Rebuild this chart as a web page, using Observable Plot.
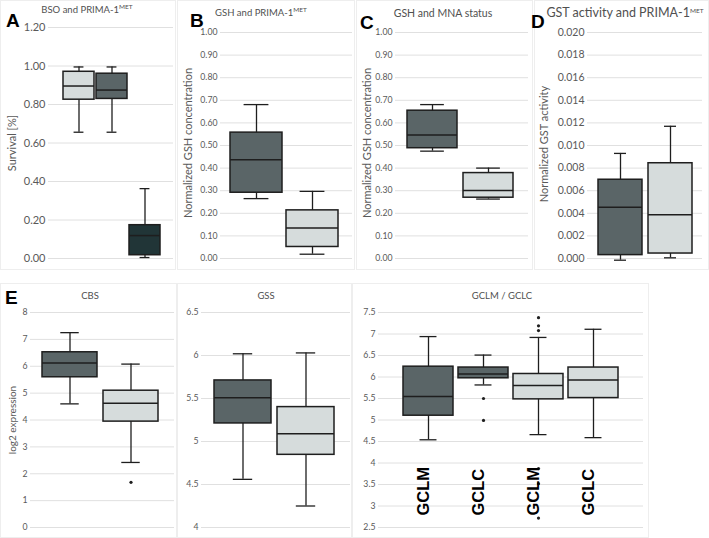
<!DOCTYPE html>
<html><head><meta charset="utf-8">
<script src="https://cdn.jsdelivr.net/npm/d3@7"></script>
<script src="https://cdn.jsdelivr.net/npm/@observablehq/plot@0.6"></script>
<style>
body{margin:0;background:#fff;}
#root{position:relative;width:709px;height:538px;overflow:hidden;font-family:Lato,"Open Sans",sans-serif;}
.frame{position:absolute;border:1px solid #eeeeee;box-sizing:border-box;}
.plot{position:absolute;}
.title{position:absolute;font-size:9.5px;font-weight:400;color:#505050;white-space:nowrap;transform:translate(-50%,-50%);line-height:12px;}
.title sup{font-size:6.5px;vertical-align:4px;line-height:0;}
.letter{position:absolute;font-family:"Liberation Sans",Arial,sans-serif;font-weight:bold;font-size:19px;line-height:19px;color:#000;}
.ylab{position:absolute;font-size:11px;color:#595959;white-space:nowrap;transform:translate(-50%,-50%) rotate(-90deg);line-height:12px;}
</style></head><body><div id="root"></div>
<script>
// ---------- DATA ----------
// A: BSO and PRIMA-1MET (survival)
const bsoGroups = ["BSO 1", "BSO 2", "BSO 3"];
const bsoMin    = [0.656, 0.656, 0.005];
const bsoQ1     = [0.825, 0.829, 0.017];
const bsoMedian = [0.896, 0.875, 0.119];
const bsoQ3     = [0.970, 0.960, 0.173];
const bsoMax    = [0.995, 0.995, 0.363];
const bsoTicks  = [0, 0.2, 0.4, 0.6, 0.8, 1.0, 1.2];

// B: GSH and PRIMA-1MET
const gshGroups = ["control", "PRIMA-1MET"];
const gshMin    = [0.265, 0.019];
const gshQ1     = [0.291, 0.051];
const gshMedian = [0.437, 0.135];
const gshQ3     = [0.557, 0.213];
const gshMax    = [0.681, 0.297];
const fractionTicks = [0, 0.1, 0.2, 0.3, 0.4, 0.5, 0.6, 0.7, 0.8, 0.9, 1.0];

// C: GSH and MNA status
const mnaGroups = ["MNA", "non-MNA"];
const mnaMin    = [0.475, 0.263];
const mnaQ1     = [0.488, 0.269];
const mnaMedian = [0.547, 0.301];
const mnaQ3     = [0.654, 0.378];
const mnaMax    = [0.681, 0.400];

// D: GST activity and PRIMA-1MET
const gstGroups = ["control", "PRIMA-1MET"];
const gstMin    = [-0.00015, 0.00006];
const gstQ1     = [0.0003, 0.00044];
const gstMedian = [0.00453, 0.00388];
const gstQ3     = [0.00697, 0.00843];
const gstMax    = [0.0093, 0.0117];
const gstTicks  = [0, 0.002, 0.004, 0.006, 0.008, 0.010, 0.012, 0.014, 0.016, 0.018, 0.020];

// E: CBS
const cbsGroups = ["MNA", "non-MNA"];
const cbsMin    = [4.60, 2.42];
const cbsQ1     = [5.59, 3.94];
const cbsMedian = [6.12, 4.62];
const cbsQ3     = [6.52, 5.09];
const cbsMax    = [7.25, 6.08];
const cbsOutlierGroup = ["non-MNA"];
const cbsOutlierValue = [1.68];
const cbsTicks  = [0, 1, 2, 3, 4, 5, 6, 7, 8];

// E: GSS
const gssGroups = ["MNA", "non-MNA"];
const gssMin    = [4.56, 4.25];
const gssQ1     = [5.21, 4.845];
const gssMedian = [5.51, 5.09];
const gssQ3     = [5.71, 5.40];
const gssMax    = [6.02, 6.03];
const gssTicks  = [4, 4.5, 5, 5.5, 6, 6.5];

// E: GCLM / GCLC
const gclGroups = ["GCLM MNA", "GCLC MNA", "GCLM non-MNA", "GCLC non-MNA"];
const gclLabels = ["GCLM", "GCLC", "GCLM", "GCLC"];
const gclMin    = [4.54, 5.815, 4.66, 4.59];
const gclQ1     = [5.10, 5.97, 5.48, 5.51];
const gclMedian = [5.545, 6.07, 5.80, 5.93];
const gclQ3     = [6.24, 6.22, 6.07, 6.22];
const gclMax    = [6.94, 6.51, 6.92, 7.11];
const gclOutlierGroup = ["GCLC MNA", "GCLC MNA", "GCLM non-MNA", "GCLM non-MNA", "GCLM non-MNA", "GCLM non-MNA", "GCLM non-MNA", "GCLM non-MNA"];
const gclOutlierValue = [5.50, 4.99, 7.38, 7.19, 7.08, 3.87, 3.52, 2.72];
const gclTicks  = [2.5, 3, 3.5, 4, 4.5, 5, 5.5, 6, 6.5, 7, 7.5];

// ---------- STYLE ----------
const LIGHT = "#d6dcdc", DARK = "#5a6567", DARKEST = "#213537";
const INK = "#1e1e1e";
const root = document.getElementById("root");

function add(cls, html, style) {
  const d = document.createElement("div");
  d.className = cls; d.innerHTML = html;
  Object.assign(d.style, style);
  root.appendChild(d);
  return d;
}

function boxPanel(cfg) {
  const n = cfg.groups.length;
  const rows = cfg.groups.map((g, i) => ({
    g, min: cfg.min[i], q1: cfg.q1[i], med: cfg.med[i], q3: cfg.q3[i], max: cfg.max[i], fill: cfg.fills[i]
  }));
  const outliers = (cfg.outG || []).map((g, i) => ({g, v: cfg.outV[i]}));
  const range = cfg.width - cfg.ml - cfg.mr;
  const step = range / (n - cfg.pi + 2 * cfg.po);
  const bw = step * (1 - cfg.pi);
  const capInset = bw * (1 - cfg.cap) / 2;
  const marks = [
    Plot.gridY(cfg.ticks, {stroke: "#e0e0e0", strokeOpacity: 1, strokeWidth: 1}),
    Plot.axisY(cfg.ticks, {tickSize: 0, tickPadding: 3, tickFormat: cfg.fmt, label: null, fontSize: cfg.fs}),
    Plot.ruleX(rows, {x: "g", y1: "min", y2: "max", stroke: INK, strokeWidth: 1.3}),
    Plot.tickY(rows, {x: "g", y: "min", stroke: INK, strokeWidth: 1.3, insetLeft: capInset, insetRight: capInset}),
    Plot.tickY(rows, {x: "g", y: "max", stroke: INK, strokeWidth: 1.3, insetLeft: capInset, insetRight: capInset}),
    Plot.barY(rows, {x: "g", y1: "q1", y2: "q3", fill: "fill", stroke: INK, strokeWidth: 1.5}),
    Plot.tickY(rows, {x: "g", y: "med", stroke: INK, strokeWidth: 1.5}),
    Plot.dot(outliers, {x: "g", y: "v", r: 1.6, fill: INK, stroke: null})
  ];
  if (cfg.labels) {
    marks.push(Plot.text(rows, {x: "g", text: (d, i) => cfg.labels[i], frameAnchor: "bottom", rotate: -90,
      textAnchor: "start", dy: -12, fontSize: 16.5, fontWeight: "bold", fill: "#000",
      fontFamily: "Liberation Sans, Arial, sans-serif"}));
  }
  const svg = Plot.plot({
    width: cfg.width, height: cfg.height,
    marginLeft: cfg.ml, marginRight: cfg.mr, marginTop: cfg.mt, marginBottom: cfg.mb,
    x: {type: "band", domain: cfg.groups, paddingInner: cfg.pi, paddingOuter: cfg.po, align: cfg.align, axis: null},
    y: {domain: cfg.domain},
    color: {type: "identity"},
    style: {fontFamily: "Lato, 'Open Sans', sans-serif", fontSize: cfg.fs + "px", color: "#595959", background: "transparent", overflow: "visible"},
    marks
  });
  const wrap = document.createElement("div");
  wrap.className = "plot";
  wrap.style.left = cfg.left + "px"; wrap.style.top = cfg.top + "px";
  wrap.appendChild(svg);
  root.appendChild(wrap);
}

// frames
[[0,0,176,270],[177,0,178,270],[356,0,177,270],[534,0,175,270],[0,283,177,255],[177,283,175,255],[352,283,297,255]]
  .forEach(([l,t,w,h]) => add("frame", "", {left:l+"px", top:t+"px", width:w+"px", height:h+"px"}));

const f2 = d => d.toFixed(2), f3 = d => d.toFixed(3), fs = d => String(d);

boxPanel({left:0, top:0, width:176, height:270, ml:48, mr:3, mt:27, mb:12, pi:0.06, po:0.42, align:0.55, cap:0.32, fs:11,
  groups:bsoGroups, min:bsoMin, q1:bsoQ1, med:bsoMedian, q3:bsoQ3, max:bsoMax, fills:[LIGHT, DARK, DARKEST],
  ticks:bsoTicks, domain:[0,1.2], fmt:f2});
boxPanel({left:176, top:0, width:178, height:270, ml:44, mr:2, mt:32, mb:12, pi:0.07, po:0.21, align:0.42, cap:0.48, fs:8.7,
  groups:gshGroups, min:gshMin, q1:gshQ1, med:gshMedian, q3:gshQ3, max:gshMax, fills:[DARK, LIGHT],
  ticks:fractionTicks, domain:[0,1], fmt:f2});
boxPanel({left:355, top:0, width:176, height:270, ml:40, mr:3, mt:32, mb:12, pi:0.106, po:0.23, align:0.46, cap:0.48, fs:8.7,
  groups:mnaGroups, min:mnaMin, q1:mnaQ1, med:mnaMedian, q3:mnaQ3, max:mnaMax, fills:[DARK, LIGHT],
  ticks:fractionTicks, domain:[0,1], fmt:f2});
boxPanel({left:532, top:0, width:177, height:270, ml:55, mr:7, mt:32, mb:12, pi:0.12, po:0.2, align:0.5, cap:0.28, fs:10.5,
  groups:gstGroups, min:gstMin, q1:gstQ1, med:gstMedian, q3:gstQ3, max:gstMax, fills:[DARK, LIGHT],
  ticks:gstTicks, domain:[0,0.02], fmt:f3});
boxPanel({left:0, top:283, width:176, height:255, ml:30, mr:2, mt:29, mb:11, pi:0.1, po:0.22, align:0.41, cap:0.34, fs:8.7,
  groups:cbsGroups, min:cbsMin, q1:cbsQ1, med:cbsMedian, q3:cbsQ3, max:cbsMax, fills:[DARK, LIGHT],
  outG:cbsOutlierGroup, outV:cbsOutlierValue, ticks:cbsTicks, domain:[0,8], fmt:fs});
boxPanel({left:176, top:283, width:176, height:255, ml:25, mr:2, mt:29, mb:11, pi:0.095, po:0.23, align:0.45, cap:0.34, fs:8.7,
  groups:gssGroups, min:gssMin, q1:gssQ1, med:gssMedian, q3:gssQ3, max:gssMax, fills:[DARK, LIGHT],
  ticks:gssTicks, domain:[4,6.5], fmt:fs});
boxPanel({left:352, top:283, width:296, height:255, ml:26, mr:5, mt:29, mb:11, pi:0.096, po:0.44, align:0.5, cap:0.34, fs:8.7,
  groups:gclGroups, min:gclMin, q1:gclQ1, med:gclMedian, q3:gclQ3, max:gclMax, fills:[DARK, DARK, LIGHT, LIGHT],
  outG:gclOutlierGroup, outV:gclOutlierValue, labels:gclLabels, ticks:gclTicks, domain:[2.5,7.5], fmt:fs});

// titles
add("title", "BSO and PRIMA-1<sup>MET</sup>", {left:"87px", top:"10px"});
add("title", "GSH and PRIMA-1<sup>MET</sup>", {left:"261px", top:"13px"});
add("title", "GSH and MNA status", {left:"443px", top:"13px", fontSize:"10.5px"});
add("title", "GST activity and PRIMA-1<sup>MET</sup>", {left:"625px", top:"13px", fontSize:"12.5px"});
add("title", "CBS", {left:"90px", top:"296px"});
add("title", "GSS", {left:"266px", top:"296px"});
add("title", "GCLM / GCLC", {left:"502px", top:"296px"});

// panel letters
add("letter", "A", {left:"6px", top:"11px"});
add("letter", "B", {left:"190px", top:"11px"});
add("letter", "C", {left:"360px", top:"13px"});
add("letter", "D", {left:"531px", top:"12px"});
add("letter", "E", {left:"5px", top:"288px"});

// y-axis labels
add("ylab", "Survival [%]", {left:"12px", top:"143px"});
add("ylab", "Normalized GSH concentration", {left:"188px", top:"143px"});
add("ylab", "Normalized GSH concentration", {left:"367px", top:"143px"});
add("ylab", "Normalized GST activity", {left:"544px", top:"144px"});
add("ylab", "log2 expression", {left:"12px", top:"420px", fontSize:"10px"});
</script></body></html>
